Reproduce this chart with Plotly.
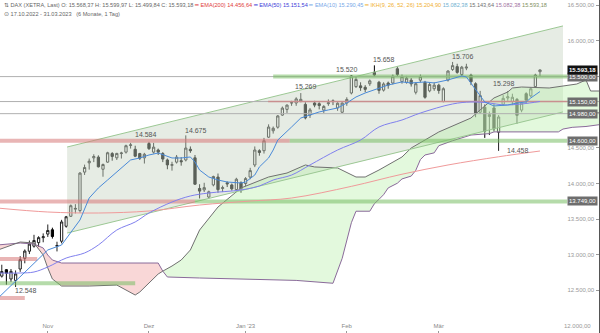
import plotly.graph_objects as go

# ---------------- data ----------------
day_idx = list(range(119))  # 17.10.2022 ... 31.03.2023 trading days

opens = [12490, 12700, 12790, 12660, 12640, 12800, 12950, 13050, 13120, 13170,
         13240, 13290, 13350, 13120, 13190, 13400, 13540, 13640, 13620, 14160,
         14290, 14360, 14370, 14200, 14300, 14420, 14360, 14420, 14440, 14535,
         14480, 14420, 14360, 14560, 14440, 14470, 14420, 14330, 14255, 14300,
         14320, 14330, 14480, 14360, 13930, 13910, 13810, 13980, 14090, 13930,
         14010, 13980, 13915, 14010, 14000, 14090, 14260, 14460, 14460, 14650,
         14740, 14790, 14960, 15040, 15130, 15130, 15150, 15110, 14960, 15130,
         15120, 15030, 15120, 15160, 15060, 15000, 15130, 15270, 15360, 15370,
         15350, 15400, 15560, 15420, 15310, 15410, 15410, 15610, 15430, 15420,
         15450, 15280, 15450, 15420, 15300, 15330, 15380, 15150, 15450, 15600,
         15640, 15530, 15620, 15520, 15400, 15000, 15070, 14940, 15060, 14720,
         15110, 15200, 15150, 15180, 15030, 15260, 15230, 15360, 15568.37]
highs = [12690, 12860, 12800, 12800, 12780, 12980, 13075, 13200, 13280, 13260,
         13300, 13425, 13380, 13183, 13490, 13545, 13705, 13710, 14160, 14265,
         14350, 14410, 14395, 14280, 14445, 14440, 14430, 14445, 14545, 14570,
         14530, 14430, 14430, 14584, 14570, 14490, 14440, 14350, 14305, 14400,
         14370, 14675, 14520, 14400, 13990, 14010, 13900, 14110, 14140, 13970,
         14030, 14000, 14080, 14030, 14090, 14220, 14520, 14480, 14640, 14830,
         14800, 14960, 15080, 15110, 15160, 15210, 15269, 15140, 15060, 15160,
         15140, 15100, 15180, 15180, 15140, 15140, 15210, 15520, 15500, 15420,
         15380, 15460, 15658, 15440, 15420, 15430, 15530, 15640, 15530, 15510,
         15480, 15420, 15530, 15440, 15420, 15420, 15400, 15350, 15590, 15706,
         15680, 15650, 15680, 15540, 15420, 15300, 15110, 15010, 15120, 14960,
         15240, 15298, 15260, 15200, 15150, 15280, 15350, 15540, 15599.97]
lows = [12460, 12680, 12580, 12620, 12548, 12760, 12880, 13010, 13100, 13110,
        13175, 13250, 13227, 13047, 13160, 13380, 13530, 13580, 13590, 14120,
        14195, 14300, 14225, 14095, 14290, 14320, 14330, 14350, 14420, 14490,
        14370, 14330, 14280, 14470, 14420, 14400, 14300, 14200, 14180, 14280,
        14250, 14310, 14430, 13980, 13790, 13880, 13790, 13960, 13870, 13880,
        13950, 13900, 13880, 13870, 13960, 14060, 14230, 14390, 14420, 14640,
        14700, 14770, 14950, 14990, 15090, 15090, 15140, 14900, 14920, 15070,
        15040, 14990, 15090, 15100, 15020, 14990, 15090, 15250, 15340, 15300,
        15280, 15370, 15500, 15260, 15290, 15330, 15390, 15500, 15400, 15400,
        15360, 15250, 15420, 15190, 15280, 15300, 15260, 15140, 15430, 15580,
        15540, 15500, 15590, 15380, 14930, 14980, 14640, 14680, 14730, 14458,
        15090, 15160, 15100, 14840, 15000, 15120, 15210, 15350, 15499.84]
closes = [12650, 12765, 12741, 12767, 12731, 12931, 13052, 13150, 13200, 13240,
          13253, 13340, 13256, 13130, 13460, 13533, 13688, 13650, 14146, 14224,
          14313, 14378, 14234, 14266, 14431, 14380, 14422, 14428, 14530, 14541,
          14383, 14355, 14410, 14490, 14510, 14440, 14343, 14261, 14264, 14370,
          14306, 14497, 14460, 13990, 13893, 13942, 13884, 14098, 13914, 13941,
          13995, 13925, 14060, 13924, 14069, 14181, 14470, 14436, 14600, 14792,
          14775, 14948, 15058, 15100, 15134, 15187, 15181, 14920, 15033, 15100,
          15094, 15081, 15132, 15150, 15126, 15128, 15180, 15509, 15460, 15345,
          15321, 15440, 15523, 15307, 15397, 15380, 15506, 15530, 15500, 15477,
          15398, 15400, 15500, 15210, 15390, 15380, 15305, 15330, 15578, 15654,
          15559, 15632, 15633, 15428, 14980, 15233, 14735, 14967, 14768, 14933,
          15195, 15216, 15210, 14957, 15128, 15170, 15329, 15522, 15593.18]

month_idx = [11, 33, 54, 76, 96]
month_txt = ["Nov", "Dez", "Jan '23", "Feb", "Mär"]

y_ticks = [12000, 12500, 13000, 13500, 14000, 14500, 15000, 15500, 16000, 16500]

ema10_idx = [0, 5, 8, 11, 14, 16, 18, 20, 22, 24, 27, 29, 31, 33, 35, 37, 38, 40, 42, 43,
             44, 46, 48, 50, 53, 54, 56, 57, 59, 60, 61, 64, 66, 68, 70, 72, 74, 76, 78, 80,
             83, 85, 88, 90, 93, 95, 98, 101, 102, 103, 105, 106, 108, 111, 113, 115, 116, 118]
ema10_val = [12380, 12688, 12884, 13067, 13137, 13305, 13488, 13796, 13937, 14049, 14218,
             14330, 14358, 14400, 14428, 14386, 14358, 14358, 14372, 14302, 14189, 14091,
             14049, 14021, 14007, 14021, 14119, 14232, 14358, 14470, 14610, 14793, 14919,
             14961, 15004, 15032, 15060, 15130, 15214, 15270, 15340, 15382, 15425, 15411,
             15425, 15411, 15453, 15509, 15495, 15411, 15242, 15144, 15088, 15102, 15130,
             15144, 15200, 15290]

ema50_idx = [0, 5, 8, 11, 15, 19, 22, 26, 30, 33, 38, 42, 46, 53, 57, 60, 64, 68, 74, 79,
             83, 88, 92, 99, 103, 107, 110, 114, 118]
ema50_val = [12744, 12744, 12758, 12828, 12954, 13025, 13137, 13347, 13460, 13586, 13740,
             13825, 13867, 13909, 13965, 14049, 14119, 14260, 14470, 14610, 14793, 14891,
             14989, 15116, 15144, 15130, 15102, 15116, 15151]

ema200_idx = [0, 11, 22, 33, 44, 55, 64, 77, 88, 98, 109, 118]
ema200_val = [13656, 13600, 13586, 13614, 13698, 13754, 13796, 13960, 14130, 14260, 14375, 14456]

# Ichimoku Senkou span A (grey) and B (purple), displaced 26 days
spanA_idx = [0, 5, 8, 10, 11, 12, 14, 20, 26, 28, 30, 31, 33, 35, 36, 38, 40, 42, 44, 48,
             53, 59, 63, 67, 69, 74, 78, 80, 83, 88, 90, 96, 103, 108, 111, 112, 114, 120,
             126, 128, 129, 132]
spanA_val = [13063, 13179, 13165, 12996, 12814, 12660, 12561, 12561, 12575, 12505, 12435,
             12477, 12603, 12730, 12770, 12842, 12926, 13067, 13347, 13670, 13937, 14091,
             14147, 14260, 14232, 14218, 14091, 14091, 14189, 14372, 14498, 14723, 14919,
             15200, 15284, 15340, 15354, 15340, 15396, 15453, 15298, 15298]
spanB_idx = [0, 5, 8, 10, 11, 12, 14, 35, 36, 37, 44, 55, 65, 73, 75, 77,
             78, 81, 82, 83, 84, 85, 87, 88, 90, 91, 92, 93, 95, 96, 99, 103, 107, 108, 122,
             123, 125, 128, 132]
spanB_val = [13137, 13165, 13151, 13095, 12996, 12926, 12884, 12884, 12770, 12688, 12674,
             12660, 12640, 12600, 12950, 13450, 13611, 13611,
             13716, 13778, 13843, 13938, 14004, 14064, 14104, 14185, 14335, 14400, 14430,
             14530, 14600, 14680, 14700, 14724, 14724, 14764, 14788, 14800, 14835]
cloud_cross_idx = 36

# trend channel
channel_idx = [15.2, 123.0]
channel_top = [14512, 16211]
channel_bot = [13305, 15004]

# horizontal support / resistance levels
grey_levels = [15500, 15150, 14980]
band_level = [15500, 14600, 14600, 13749, 13749, 12940, 12600, 12393]
band_start = [60, -2, 63.6, -2, 43, -2, -2, -2]
band_end = [123.9, 63.6, 123.9, 43, 123.9, 8.7, 30, 6]
band_kind = ["g", "r", "g", "r", "g", "r", "g", "r"]
rose_level = 15150
rose_start, rose_end = 58.9, 123.9

tag_levels = [15500, 15150, 14980, 14600, 13749]

label_idx = [33, 41, 66, 77, 82, 99, 111, 109, 4]
label_val = [14584, 14675, 15269, 15520, 15658, 15706, 15298, 14458, 12548]

# ---------------- styles ----------------
label_dx = [-3, 10, 5, -4, 10, 10, -4, 19, 10]
label_dy = [-7, -5, -7, -6, -6, -5, -8, 0, 4]
band_colors = {"g": "rgba(120,190,100,0.55)", "r": "rgba(215,120,120,0.55)"}
FONT = "Liberation Sans, Arial, sans-serif"


def de(v, d=2):
    s = f"{v:,.{d}f}"
    return s.replace(",", "X").replace(".", ",").replace("X", ".")


fig = go.Figure()

# trend channel fill
fig.add_trace(go.Scatter(
    x=[channel_idx[0], channel_idx[1], channel_idx[1], channel_idx[0], channel_idx[0]],
    y=[channel_top[0], channel_top[1], channel_bot[1], channel_bot[0], channel_top[0]],
    mode="lines", fill="toself", fillcolor="rgba(200,212,196,0.45)",
    line=dict(width=0), hoverinfo="skip"))


def seg(idx, val, lo, hi):
    xs, ys = [], []
    for i, v in zip(idx, val):
        if lo <= i <= hi:
            xs.append(i)
            ys.append(v)
    return xs, ys


# Ichimoku cloud: bearish (pink) part and bullish (green) part
for lo, hi, col in [(0, cloud_cross_idx, "rgba(240,160,160,0.42)"),
                    (cloud_cross_idx, 200, "rgba(185,240,170,0.40)")]:
    bx, by = seg(spanB_idx, spanB_val, lo, hi)
    ax, ay = seg(spanA_idx, spanA_val, lo, hi)
    fig.add_trace(go.Scatter(x=bx, y=by, mode="lines",
                             line=dict(color="#8a6a9a", width=1), hoverinfo="skip"))
    fig.add_trace(go.Scatter(x=ax, y=ay, mode="lines", fill="tonexty", fillcolor=col,
                             line=dict(color="#707070", width=1), hoverinfo="skip"))

# channel border lines
for yy in (channel_top, channel_bot):
    fig.add_trace(go.Scatter(x=channel_idx, y=yy, mode="lines",
                             line=dict(color="#9cc894", width=1), hoverinfo="skip"))

# horizontal levels
x_left, x_right = -2, 140
for lv in grey_levels:
    fig.add_trace(go.Scatter(x=[x_left, x_right], y=[lv, lv], mode="lines",
                             line=dict(color="#b0b0b0", width=1), hoverinfo="skip"))
fig.add_trace(go.Scatter(x=[rose_start, rose_end], y=[rose_level, rose_level], mode="lines",
                         line=dict(color="#c98f8f", width=1.5), hoverinfo="skip"))
for lv, s, e, k in zip(band_level, band_start, band_end, band_kind):
    fig.add_trace(go.Scatter(x=[s, e], y=[lv, lv], mode="lines",
                             line=dict(color=band_colors[k], width=4), hoverinfo="skip"))

# moving averages
fig.add_trace(go.Scatter(x=ema200_idx, y=ema200_val, mode="lines", line_shape="spline",
                         line=dict(color="#f09a9a", width=1), hoverinfo="skip"))
fig.add_trace(go.Scatter(x=ema50_idx, y=ema50_val, mode="lines", line_shape="spline",
                         line=dict(color="#8080ee", width=1), hoverinfo="skip"))
fig.add_trace(go.Scatter(x=ema10_idx, y=ema10_val, mode="lines",
                         line=dict(color="#4a8ad8", width=1), hoverinfo="skip"))

# candles
fig.add_trace(go.Candlestick(
    x=day_idx, open=opens, high=highs, low=lows, close=closes,
    increasing=dict(line=dict(color="#222", width=1), fillcolor="#ffffff"),
    decreasing=dict(line=dict(color="#000", width=1), fillcolor="#000000"),
    whiskerwidth=0, hoverinfo="skip"))

annotations = []
# high / low labels
for i, v, dx, dy in zip(label_idx, label_val, label_dx, label_dy):
    annotations.append(dict(x=i, y=v, xref="x", yref="y", text=de(v, 0),
                            showarrow=False, xanchor="center", yanchor="middle",
                            xshift=dx, yshift=-dy,
                            font=dict(family=FONT, size=7, color="#555")))
# lowest y tick label (plotly hides it next to the inside x labels)
annotations.append(dict(x=1, y=y_ticks[0], xref="paper", yref="y", text=de(y_ticks[0]),
                        showarrow=False, xanchor="right", yanchor="middle", xshift=-6,
                        font=dict(family=FONT, size=6, color="#999")))
# price tags at right
for lv in tag_levels:
    annotations.append(dict(x=1, y=lv, xref="paper", yref="y", text=de(lv),
                            showarrow=False, xanchor="right", yanchor="middle",
                            bgcolor="#6e6e6e", borderpad=1, xshift=-1,
                            font=dict(family=FONT, size=6, color="#ffffff")))
annotations.append(dict(x=1, y=closes[-1], xref="paper", yref="y",
                        text="<b>" + de(closes[-1]) + "</b>",
                        showarrow=False, xanchor="right", yanchor="middle",
                        bgcolor="#111111", borderpad=1, xshift=-1,
                        font=dict(family=FONT, size=6, color="#ffffff")))

# header
head1 = ("⇅ DAX (XETRA, Last) O: " + de(opens[-1]) + " H: " + de(highs[-1]) +
         " L: " + de(lows[-1]) + " C: " + de(closes[-1]) +
         " <span style='color:#e03c3c'>━ EMA(200) " + de(14456.64) + "</span>" +
         " <span style='color:#3c3cd8'>━ EMA(50) " + de(15151.54) + "</span>" +
         " <span style='color:#78a8e8'>━ EMA(10) " + de(15290.45) + "</span>" +
         " <span style='color:#f0b030'>━ IKH(9, 26, 52, 26) " + de(15204.90) + "</span>" +
         " <span style='color:#70b0d0'>" + de(15082.38) + "</span>" +
         " <span style='color:#707070'>" + de(15143.64) + "</span>" +
         " <span style='color:#a070a0'>" + de(15082.38) + "</span>" +
         " <span style='color:#809060'>" + de(15593.18) + "</span>")
annotations.append(dict(x=0.003, y=1.0, xref="paper", yref="paper", text=head1,
                        showarrow=False, xanchor="left", yanchor="top",
                        font=dict(family=FONT, size=5.6, color="#666")))
annotations.append(dict(x=0.003, y=0.972, xref="paper", yref="paper",
                        text="⊙ 17.10.2022 - 31.03.2023   (6 Monate, 1 Tag)",
                        showarrow=False, xanchor="left", yanchor="top",
                        font=dict(family=FONT, size=5.6, color="#666")))

fig.update_layout(
    width=600, height=333, margin=dict(l=0, r=1, t=0, b=0),
    paper_bgcolor="white", plot_bgcolor="white", showlegend=False,
    separators=",.", font=dict(family=FONT, size=6, color="#888"),
    annotations=annotations,
    xaxis=dict(range=[0.61, 130.83], tickmode="array", tickvals=month_idx, ticktext=month_txt,
               ticks="inside", ticklen=2, tickcolor="#999", ticklabelposition="inside",
               showgrid=False, zeroline=False, showline=False,
               rangeslider=dict(visible=False),
               tickfont=dict(family=FONT, size=6, color="#888")),
    yaxis=dict(range=[11902, 16575], side="right", tickmode="array", tickvals=y_ticks,
               tickformat=",.2f", ticklabelposition="inside", ticks="inside", ticklen=3,
               ticklabeloverflow="allow",
               tickcolor="#999", showline=True, linecolor="#555", linewidth=1,
               showgrid=False, zeroline=False,
               tickfont=dict(family=FONT, size=6, color="#999")),
)

fig.write_html("out.html")
